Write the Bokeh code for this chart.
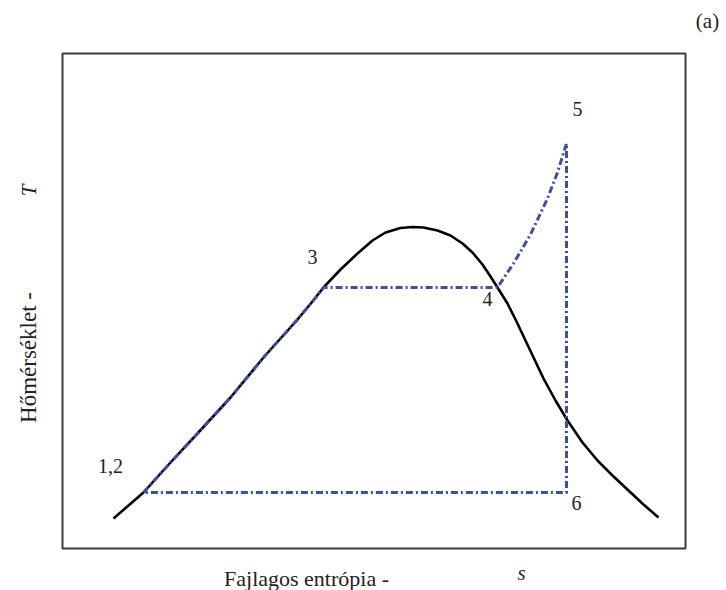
from bokeh.plotting import figure
from bokeh.models import Range1d, Label
from bokeh.embed import file_html
from bokeh.resources import INLINE

# Saturation dome (arbitrary entropy s / temperature T units)
dome_s = [51, 66, 81, 108, 135, 168, 201, 235, 250, 261,
          278, 295, 310, 323, 338, 350, 361, 375, 388, 400,
          410, 420, 428, 435, 445, 454, 463, 472, 481, 493,
          505, 520, 535, 550, 566, 581, 596]
dome_T = [30, 43, 56, 86, 115, 151, 191, 229, 247, 261,
          279, 295, 308, 316, 320.5, 321.5, 321, 318, 313, 305,
          296, 284, 272, 261, 245, 227, 208, 189, 170, 148,
          128, 106, 88, 73, 58, 44, 31]

# Cycle 1,2 -> 3 -> 4 -> 5 -> 6 -> 1,2
cycle_s = [81, 108, 135, 168, 201, 235, 250, 261, 435, 451, 468, 485, 495, 504, 504, 81]
cycle_T = [56, 86, 115, 151, 191, 229, 247, 261, 261, 285, 314, 350, 376, 405, 56, 56]

point_names = ["1,2", "3", "4", "5", "6"]
point_s = [48, 250, 425, 515, 514]
point_T = [83, 292, 250, 440, 46]

FONT = "Liberation Serif"
TXT = "#222222"

S_MAX, T_MAX = 623, 495   # extent of the framed diagram

p = figure(width=720, height=590, output_backend="svg", toolbar_location=None,
           x_range=Range1d(-62, 658), y_range=Range1d(-42, 548),
           x_axis_type=None, y_axis_type=None,
           min_border_left=0, min_border_right=0, min_border_top=0, min_border_bottom=0)
p.grid.visible = False
p.outline_line_color = None
p.background_fill_color = "white"
p.border_fill_color = "white"

# diagram frame
p.quad(left=[0], right=[S_MAX], bottom=[0], top=[T_MAX], fill_color=None,
       line_color="#3a3a3a", line_width=2)

p.line(dome_s, dome_T, line_color="black", line_width=2.6, line_join="round")
p.line(cycle_s, cycle_T, line_color="#3d4f9f", line_width=3, line_dash="7 3 2 3",
       line_join="round")

for name, s, t in zip(point_names, point_s, point_T):
    p.add_layout(Label(x=s, y=t, text=name, text_font=FONT, text_font_size="20px",
                       text_align="center", text_baseline="middle", text_color=TXT))

p.add_layout(Label(x=645, y=528, text="(a)", text_font=FONT, text_font_size="21px",
                   text_align="center", text_baseline="middle", text_color=TXT))
p.add_layout(Label(x=-34, y=358, text="T", text_font=FONT, text_font_style="italic",
                   text_font_size="21px", angle=1.5708, text_align="center",
                   text_baseline="middle", text_color=TXT))
p.add_layout(Label(x=-34, y=191, text="Hőmérséklet -", text_font=FONT,
                   text_font_size="23px", angle=1.5708, text_align="center",
                   text_baseline="middle", text_color=TXT))
p.add_layout(Label(x=244, y=-30, text="Fajlagos entrópia -", text_font=FONT,
                   text_font_size="22px", text_align="center", text_baseline="middle",
                   text_color=TXT))
p.add_layout(Label(x=459, y=-24, text="s", text_font=FONT, text_font_style="italic",
                   text_font_size="21px", text_align="center", text_baseline="middle",
                   text_color=TXT))

open("out.html", "w").write(file_html(p, INLINE))
